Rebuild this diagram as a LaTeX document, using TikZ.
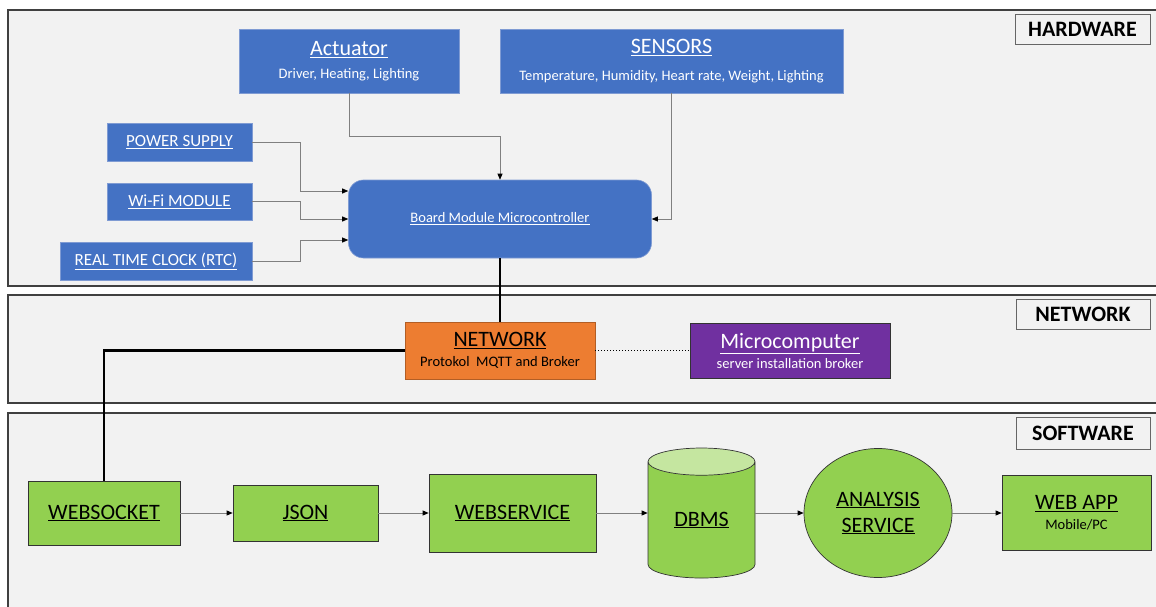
\documentclass[tikz,border=0pt]{standalone}
\usepackage{fontspec}
\setmainfont{Carlito}
\usetikzlibrary{arrows.meta,shapes.geometric}
\definecolor{hwblue}{HTML}{4472C4}
\definecolor{hwedge}{HTML}{7F9BD3}
\definecolor{netorange}{HTML}{ED7D31}
\definecolor{netpurple}{HTML}{7030A0}
\definecolor{swgreen}{HTML}{92D050}
\definecolor{swlight}{HTML}{C5E6A0}
\definecolor{panelbg}{HTML}{F2F2F2}
\newcommand{\ttl}[1]{{\fontsize{22}{24}\selectfont\underline{#1}}}
\newcommand{\subtxt}[1]{{\fontsize{14.5}{17}\selectfont #1}}
\begin{document}
\begin{tikzpicture}[x=1pt, y=-1pt,
	every node/.style={inner sep=0pt, align=center, font=\fontsize{14.5}{17}\selectfont},
	panel/.style={draw=black!75, line width=1.2pt, fill=panelbg},
	tag/.style={draw=black!60, line width=0.8pt, fill=panelbg, font=\fontsize{22}{24}\selectfont\bfseries},
	bluebox/.style={draw=hwedge, line width=0.6pt, fill=hwblue, text=white},
	greenbox/.style={draw=black!80, line width=0.7pt, fill=swgreen},
	conn/.style={draw=black!50, line width=0.7pt, -{Triangle[black,length=6pt,width=5pt]}},
	thick link/.style={draw=black, line width=2.4pt}]
	\useasboundingbox (0,0) rectangle (1156,607);
	% layers
	\draw[panel] (8,10) rectangle (1162,286);
	\draw[panel] (8,295) rectangle (1162,403);
	\draw[panel] (8,413) rectangle (1162,615);
	\node[tag, minimum width=135, minimum height=30] (hwtag) at (1082.5,29) {HARDWARE};
	\node[tag, minimum width=134, minimum height=30] (nettag) at (1083,314) {NETWORK};
	\node[tag, minimum width=134, minimum height=32] (swtag) at (1083,433) {SOFTWARE};
	% hardware
	\node[bluebox, minimum width=220, minimum height=64] (act) at (349,61) {\ttl{Actuator}\\[6pt]\subtxt{Driver, Heating, Lighting}};
	\node[bluebox, minimum width=343, minimum height=64] (sens) at (671.5,61) {\ttl{SENSORS}\\[10pt]\subtxt{Temperature, Humidity, Heart rate, Weight, Lighting}};
	\node[bluebox, minimum width=145, minimum height=38, font=\fontsize{17}{19}\selectfont] (pwr) at (179.5,142) {\underline{POWER SUPPLY}};
	\node[bluebox, minimum width=145, minimum height=37, font=\fontsize{17}{19}\selectfont] (wifi) at (179.5,201.5) {\underline{Wi-Fi MODULE}};
	\node[bluebox, minimum width=192, minimum height=38, font=\fontsize{17}{19}\selectfont] (rtc) at (156,261) {\underline{REAL TIME CLOCK (RTC)}};
	\node[bluebox, rounded corners=15pt, minimum width=303, minimum height=78] (board) at (500,219) {\underline{Board Module Microcontroller}};
	\draw[conn] (pwr.east) -- ++(48,0) |- ([yshift=28pt]board.west);
	\draw[conn] (wifi.east) -- ++(48,0) |- (board.west);
	\draw[conn] (rtc.east) -- ++(48,0) |- ([yshift=-21pt]board.west);
	\draw[conn] (act.south) -- ++(0,43) -| (board.north);
	\draw[conn] (sens.south) |- (board.east);
	% network
	\node[draw=netorange!75!black, line width=0.6pt, fill=netorange, minimum width=190, minimum height=57] (net) at (500,350.5) {\ttl{NETWORK}\\[3pt]\subtxt{Protokol\ \ MQTT and Broker}};
	\node[draw=black!80, line width=0.7pt, fill=netpurple, text=white, minimum width=200, minimum height=55] (micro) at (790,350.5) {\ttl{Microcomputer}\\[3pt]\subtxt{server installation broker}};
	\draw[thick link] (board.south) -- (net.north);
	\draw[black, line width=1pt, dotted] (net.east) -- (micro.west);
	% software
	\node[greenbox, minimum width=152, minimum height=64] (ws) at (104,513) {\ttl{WEBSOCKET}};
	\node[greenbox, minimum width=145, minimum height=56] (json) at (305.5,513) {\ttl{JSON}};
	\node[greenbox, minimum width=167, minimum height=78] (wsv) at (512.5,513) {\ttl{WEBSERVICE}};
	\node[cylinder, shape border rotate=90, aspect=0.5, draw=black!80, line width=0.7pt, cylinder uses custom fill, cylinder body fill=swgreen, cylinder end fill=swlight, minimum width=107, minimum height=130] (dbms) at (701.5,520) {\ttl{DBMS}};
	\node[ellipse, greenbox, minimum width=148, minimum height=129] (ana) at (878,513) {\ttl{ANALYSIS}\\[9pt]\ttl{SERVICE}};
	\node[greenbox, minimum width=149, minimum height=75] (app) at (1076.5,513) {\ttl{WEB APP}\\[3pt]\subtxt{Mobile/PC}};
	\draw[thick link] (net.west) -| (ws.north);
	\draw[conn] (ws) -- (json);
	\draw[conn] (json) -- (wsv);
	\draw[conn] (wsv) -- (wsv -| dbms.west);
	\draw[conn] (dbms.east |- ana) -- (ana);
	\draw[conn] (ana) -- (app);
\end{tikzpicture}
\end{document}
